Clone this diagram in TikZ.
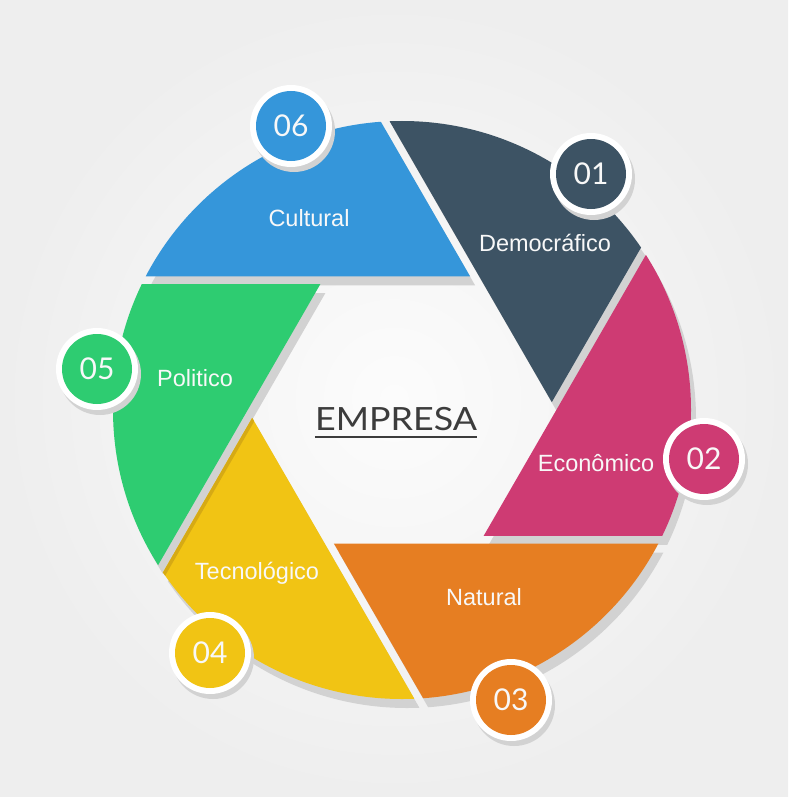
\documentclass[tikz,border=0pt]{standalone}
\usepackage{fontspec}
\usepackage{graphicx}
\setmainfont{Liberation Sans}
\newfontfamily\numfont{Lato}
\usetikzlibrary{calc}
\definecolor{cblue}{RGB}{53,150,218}
\definecolor{cdark}{RGB}{61,83,100}
\definecolor{cpink}{RGB}{206,59,115}
\definecolor{corange}{RGB}{230,126,34}
\definecolor{cyellow}{RGB}{241,196,20}
\definecolor{cyellowd}{RGB}{214,170,20}
\definecolor{cgreen}{RGB}{46,204,113}
\definecolor{shadowc}{RGB}{210,210,210}
\definecolor{bgin}{RGB}{252,252,252}
\definecolor{bgout}{RGB}{238,238,238}
\definecolor{txtc}{RGB}{248,248,248}
\definecolor{empc}{RGB}{60,60,60}
\newcommand\bladeshape[4]{%
  \begin{scope}
    \clip (C) circle [radius=289];
    \fill[#4] (#1) -- ($(#1)+(#2:800)$) -- ($(#1)+(#3:800)$) -- cycle;
  \end{scope}}
\tikzset{
  lbl/.style={text=txtc, font=\fontsize{23.5}{25}\selectfont, inner sep=0},
  numdisk/.style={circle, minimum size=70pt, inner sep=0, text=txtc,
    font=\numfont\fontsize{30}{30}\selectfont},
}
\begin{document}
\begin{tikzpicture}[x=1pt,y=-1pt]
\useasboundingbox (0,0) rectangle (788,797);
\shade[inner color=bgin, outer color=bgout] (0,0) rectangle (788,797);
\coordinate (C) at (402,410);
\foreach \n/\a in {R/357,BR/57,BL/117,L/177,TL/237,TR/297}
  \coordinate (\n) at ($(C)+(\a:150)$);
% shadows
\begin{scope}[transform canvas={shift={(5pt,-9pt)}}]
  \bladeshape{TR}{180}{240}{shadowc}
  \bladeshape{R}{240}{300}{shadowc}
  \bladeshape{BR}{300}{360}{shadowc}
  \bladeshape{BL}{0}{60}{shadowc}
  \bladeshape{L}{60}{120}{shadowc}
  \bladeshape{TL}{120}{180}{shadowc}
\end{scope}
% blades
\bladeshape{TR}{180}{240}{cblue}
\bladeshape{R}{240}{300}{cdark}
\bladeshape{BR}{300}{360}{cpink}
\bladeshape{BL}{0}{60}{corange}
\bladeshape{L}{60}{120}{cyellow}
\bladeshape{TL}{120}{180}{cgreen}
% darker edge of the yellow blade
\begin{scope}
  \clip (C) circle [radius=289];
  \clip (L) -- ($(L)+(60:800)$) -- ($(L)+(120:800)$) -- cycle;
  \draw[cyellowd, line width=7pt] (L) -- ($(L)+(120:800)$);
\end{scope}
% labels
\node[lbl] (t6) at (309,218) {Cultural};
\node[lbl] (t1) at (545,243) {Democráfico};
\node[lbl] (t2) at (596,463) {Econômico};
\node[lbl] (t3) at (484,597) {Natural};
\node[lbl] (t4) at (257,573) {Tecnológico};
\node[lbl] (t5) at (195,378) {Politico};
% number badges
\foreach \num/\px/\py/\col in {01/591/174/cdark, 02/704/459/cpink, 03/511/700/corange,
    04/210/653/cyellow, 05/97/369/cgreen, 06/291/126/cblue} {
  \coordinate (p\num) at (\px,\py);
  \fill[shadowc] ([shift={(3,5)}]p\num) circle [radius=41];
  \fill[white] (p\num) circle [radius=41];
  \node[numdisk, fill=\col] (d\num) at (p\num) {\num};
}
% centre
\node[anchor=base, inner sep=0, text=empc, font=\numfont\fontsize{32}{32}\selectfont]
  (emp) at (396,430) {\scalebox{1.12}[1]{EMPRESA}};
\draw[empc, line width=2pt] ([yshift=-7pt]emp.south west) -- ([yshift=-7pt]emp.south east);
\end{tikzpicture}
\end{document}
